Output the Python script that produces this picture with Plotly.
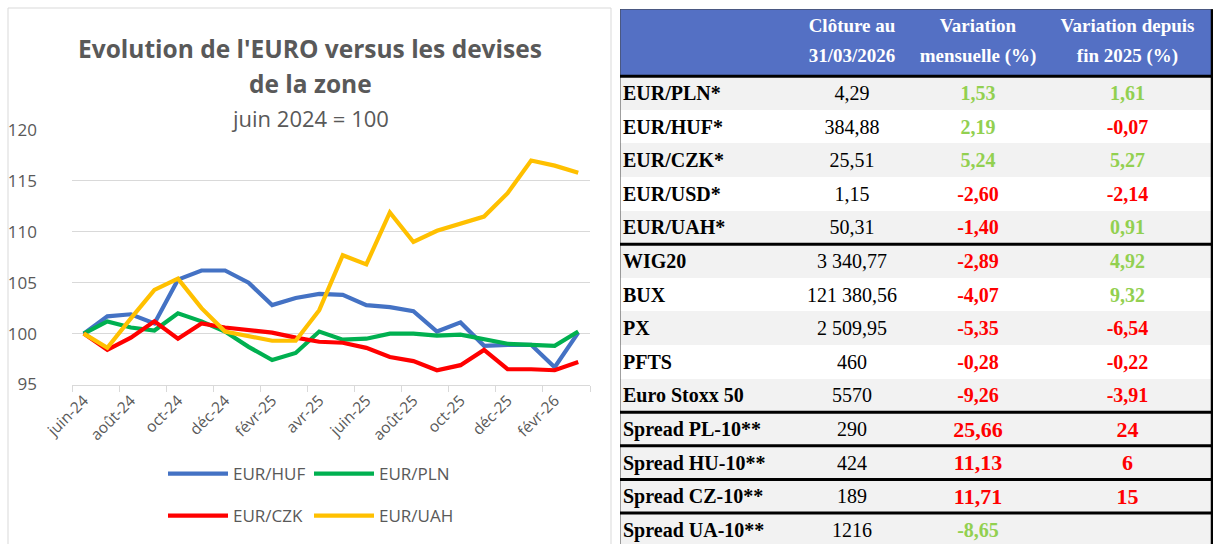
import plotly.graph_objects as go

# ---------------- data ----------------
months = ["juin-24", "juil-24", "août-24", "sept-24", "oct-24", "nov-24", "déc-24",
          "janv-25", "févr-25", "mars-25", "avr-25", "mai-25", "juin-25", "juil-25",
          "août-25", "sept-25", "oct-25", "nov-25", "déc-25", "janv-26", "févr-26", "mars-26"]

eur_huf = [100, 101.7, 101.9, 101.0, 105.3, 106.2, 106.2, 105.0, 102.8, 103.5, 103.9,
           103.8, 102.8, 102.6, 102.2, 100.2, 101.1, 98.8, 98.9, 98.9, 96.7, 100.1]
eur_pln = [100, 101.2, 100.6, 100.3, 102.0, 101.2, 100.2, 98.7, 97.4, 98.1, 100.2,
           99.4, 99.5, 100.0, 100.0, 99.8, 99.9, 99.4, 99.0, 98.9, 98.8, 100.2]
eur_czk = [100, 98.4, 99.6, 101.2, 99.5, 101.0, 100.6, 100.3, 100.1, 99.6, 99.2,
           99.1, 98.6, 97.7, 97.3, 96.4, 96.9, 98.4, 96.5, 96.5, 96.4, 97.2]
eur_uah = [100, 98.6, 101.5, 104.3, 105.4, 102.5, 100.2, 99.7, 99.3, 99.3, 102.3,
           107.7, 106.8, 111.9, 109.0, 110.1, 110.8, 111.5, 113.8, 117.0, 116.5, 115.8]

row_labels = ["EUR/PLN*", "EUR/HUF*", "EUR/CZK*", "EUR/USD*", "EUR/UAH*", "WIG20", "BUX",
              "PX", "PFTS", "Euro Stoxx 50", "Spread PL-10**", "Spread HU-10**",
              "Spread CZ-10**", "Spread UA-10**"]
closing = ["4,29", "384,88", "25,51", "1,15", "50,31", "3 340,77", "121 380,56",
           "2 509,95", "460", "5570", "290", "424", "189", "1216"]
var_month = ["1,53", "2,19", "5,24", "-2,60", "-1,40", "-2,89", "-4,07", "-5,35",
             "-0,28", "-9,26", "25,66", "11,13", "11,71", "-8,65"]
var_ytd = ["1,61", "-0,07", "5,27", "-2,14", "0,91", "4,92", "9,32", "-6,54",
           "-0,22", "-3,91", "24", "6", "15", ""]
header_line1 = ["Clôture au", "Variation", "Variation depuis"]
header_line2 = ["31/03/2026", "mensuelle (%)", "fin 2025 (%)"]

month_good = [True, True, True, False, False, False, False, False, False, False,
              False, False, False, True]
ytd_good = [True, False, True, False, True, True, True, False, False, False,
            False, False, False, True]
row_grey = [True, False, True, False, True, True, False, True, False, True,
            True, True, True, True]
spread_big = [False] * 10 + [True, True, True, False]
thick_after = [0, 5, 10, 11, 12, 13]   # row boundaries with thick rules

# ---------------- styles ----------------
W, H = 1214, 544
GREY_TXT = "#595959"
GREEN = "#92D050"
RED = "#FF0000"
HDR = "#5470C4"
FONT = "Open Sans"
SERIF = "Liberation Serif"
col_edges = [0, 170, 294, 422, 593]        # table column edges (px inside table)
TB_TOP = 9                                 # table top (px)
ROW_PX = 33.6                              # row height (px)

def px_x(x):
    return x / W

def px_y(y):
    return 1 - y / H

fig = go.Figure()

# ---------------- line chart ----------------
series = [("EUR/HUF", eur_huf, "#4472C4", "legend"),
          ("EUR/PLN", eur_pln, "#00B050", "legend"),
          ("EUR/CZK", eur_czk, "#FF0000", "legend2"),
          ("EUR/UAH", eur_uah, "#FFC000", "legend2")]
for name, vals, col, lg in series:
    fig.add_trace(go.Scatter(x=months, y=vals, mode="lines", name=name,
                             line=dict(color=col, width=4.2), legend=lg,
                             hoverinfo="skip", xaxis="x", yaxis="y"))

# ---------------- table (heatmap for fills + text scatter) ----------------
n = len(row_labels)
z = [[2, 2, 2, 2]] + [[1 if g else 0] * 4 for g in row_grey]
y_edges = [-2] + list(range(0, n + 1))
fig.add_trace(go.Heatmap(z=z, x=col_edges, y=y_edges, zmin=0, zmax=2,
                         colorscale=[[0, "#FFFFFF"], [0.5, "#F2F2F2"], [1, HDR]],
                         showscale=False, hoverinfo="skip", xaxis="x2", yaxis="y2",
                         showlegend=False))

centers = [(col_edges[i] + col_edges[i + 1]) / 2 for i in range(4)]
tx, ty, tt, tc, ts, tw = [], [], [], [], [], []
for j in range(3):
    for line_txt, yy in ((header_line1[j], -1.45), (header_line2[j], -0.55)):
        tx.append(centers[j + 1]); ty.append(yy); tt.append(line_txt)
        tc.append("white"); ts.append(19); tw.append("bold")
for i in range(n):
    yc = i + 0.56
    tx.append(centers[1]); ty.append(yc); tt.append(closing[i])
    tc.append("black"); ts.append(20); tw.append("normal")
    tx.append(centers[2]); ty.append(yc); tt.append(var_month[i])
    tc.append(GREEN if month_good[i] else RED); ts.append(22 if spread_big[i] else 20)
    tw.append("bold")
    tx.append(centers[3]); ty.append(yc); tt.append(var_ytd[i])
    tc.append(GREEN if ytd_good[i] else RED); ts.append(22 if spread_big[i] else 20)
    tw.append("bold")
fig.add_trace(go.Scatter(x=tx, y=ty, text=tt, mode="text", textposition="middle center",
                         textfont=dict(family=SERIF, color=tc, size=ts, weight=tw),
                         hoverinfo="skip", showlegend=False, xaxis="x2", yaxis="y2",
                         cliponaxis=False))
fig.add_trace(go.Scatter(x=[3] * n, y=[i + 0.56 for i in range(n)], text=row_labels,
                         mode="text", textposition="middle right",
                         textfont=dict(family=SERIF, color="black", size=20, weight="bold"),
                         hoverinfo="skip", showlegend=False, xaxis="x2", yaxis="y2",
                         cliponaxis=False))

# ---------------- shapes ----------------
y2_bottom = -2 + (H - TB_TOP) / ROW_PX
shapes = []
shapes.append(dict(type="rect", xref="paper", yref="paper",
                   x0=px_x(8), x1=px_x(611), y0=-0.02, y1=px_y(8),
                   line=dict(color="#D9D9D9", width=1), fillcolor="rgba(0,0,0,0)",
                   layer="below"))
shapes.append(dict(type="line", xref="x2", yref="y2", x0=0, x1=0, y0=-2, y1=n,
                   line=dict(color="#404040", width=1)))
shapes.append(dict(type="line", xref="x2", yref="y2", x0=col_edges[-1] - 1,
                   x1=col_edges[-1] - 1, y0=-2, y1=n, line=dict(color="black", width=2.5)))
shapes.append(dict(type="line", xref="x2", yref="y2", x0=0, x1=col_edges[-1], y0=-2, y1=-2,
                   line=dict(color="#404040", width=1)))
for k in thick_after:
    shapes.append(dict(type="line", xref="x2", yref="y2", x0=0, x1=col_edges[-1],
                       y0=k, y1=k, line=dict(color="black", width=3)))

annotations = [
    dict(text="<b>Evolution de l'EURO versus les devises</b>", x=px_x(310), y=px_y(48),
         xref="paper", yref="paper", showarrow=False, xanchor="center", yanchor="middle",
         font=dict(family=FONT, size=24.5, color=GREY_TXT)),
    dict(text="<b>de la zone</b>", x=px_x(310), y=px_y(83),
         xref="paper", yref="paper", showarrow=False, xanchor="center", yanchor="middle",
         font=dict(family=FONT, size=24.5, color=GREY_TXT)),
    dict(text="juin 2024 = 100", x=px_x(310), y=px_y(118),
         xref="paper", yref="paper", showarrow=False, xanchor="center", yanchor="middle",
         font=dict(family=FONT, size=22, color=GREY_TXT)),
]

fig.update_layout(
    width=W, height=H,
    margin=dict(l=0, r=0, t=0, b=0, autoexpand=False),
    paper_bgcolor="white", plot_bgcolor="white",
    shapes=shapes, annotations=annotations,
    xaxis=dict(domain=[px_x(72), px_x(590)], type="category",
               tickmode="linear", tick0=0, dtick=2, tickson="boundaries",
               ticks="outside", ticklen=6, tickcolor="#D9D9D9",
               showline=True, linecolor="#D9D9D9", linewidth=1,
               showgrid=False, tickangle=-45, automargin=False,
               tickfont=dict(family=FONT, size=15.5, color=GREY_TXT),
               range=[-0.5, 21.5], fixedrange=True),
    yaxis=dict(domain=[px_y(384.5), px_y(130)], range=[95, 120],
               tickvals=[95, 100, 105, 110, 115, 120],
               showgrid=True, gridcolor="#D9D9D9", gridwidth=1,
               zeroline=False, showline=False, ticks="", automargin=False,
               ticklabelstandoff=34, fixedrange=True,
               tickfont=dict(family=FONT, size=17, color=GREY_TXT)),
    xaxis2=dict(domain=[px_x(620), px_x(1213)], range=[0, col_edges[-1]],
                visible=False, fixedrange=True, automargin=False),
    yaxis2=dict(domain=[0, px_y(TB_TOP)], range=[y2_bottom, -2], visible=False,
                fixedrange=True, automargin=False),
    showlegend=True,
    legend=dict(orientation="h", x=px_x(163), y=px_y(474), xanchor="left",
                yanchor="middle", font=dict(family=FONT, size=17, color=GREY_TXT),
                itemwidth=60, entrywidth=71, bgcolor="rgba(0,0,0,0)",
                tracegroupgap=0),
    legend2=dict(orientation="h", x=px_x(163), y=px_y(516), xanchor="left",
                 yanchor="middle", font=dict(family=FONT, size=17, color=GREY_TXT),
                 itemwidth=60, entrywidth=71, bgcolor="rgba(0,0,0,0)",
                 tracegroupgap=0),
)

fig.write_html("out.html", config={"displayModeBar": False},
               post_script="document.body.style.margin='0';document.body.style.overflow='hidden';")
